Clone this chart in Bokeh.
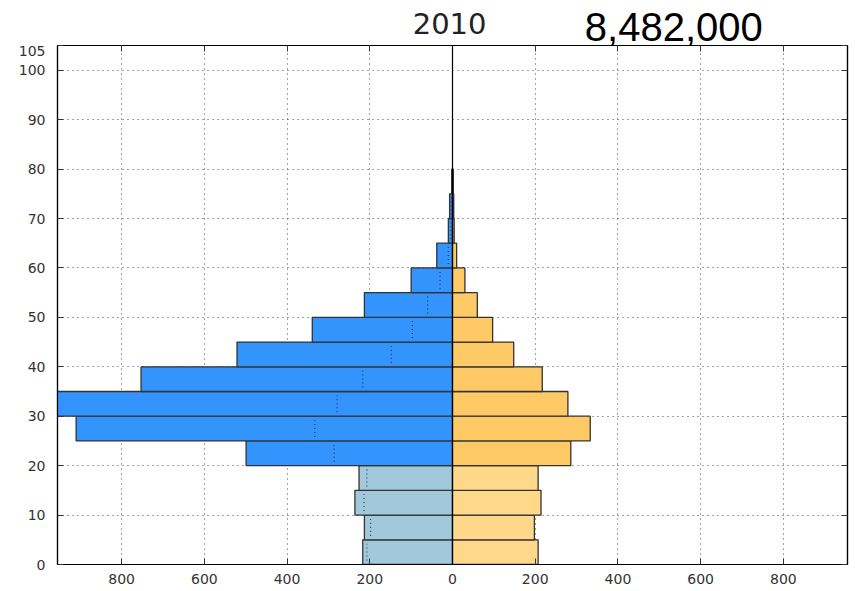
from bokeh.plotting import figure
from bokeh.models import (Range1d, FixedTicker, LinearAxis, Label, Span,
                          ColumnDataSource)
from bokeh.layouts import column
from bokeh.embed import file_html
from bokeh.resources import INLINE

# ---- data (thousands) ----
age_start = [0, 5, 10, 15, 20, 25, 30, 35, 40, 45, 50, 55, 60, 65, 70, 75]
male = [217, 213, 236, 226, 499, 910, 965, 753, 521, 339, 213, 100, 38, 10, 7, 2]
female = [207, 198, 214, 207, 286, 333, 279, 217, 148, 97, 60, 30, 10, 4, 3, 2]
year_label = "2010"
total_label = "8,482,000"
x_ticks = [-800, -600, -400, -200, 0, 200, 400, 600, 800]
y_ticks = [0, 10, 20, 30, 40, 50, 60, 70, 80, 90, 100, 105]

bin_w = 5
child_age = 20
male_adult_c = "#3394FE"
male_child_c = "#A2C8DB"
female_adult_c = "#FFC965"
female_child_c = "#FFD88A"

src = ColumnDataSource(dict(
    bottom=age_start,
    top=[a + bin_w for a in age_start],
    mleft=[-m for m in male],
    fright=female,
    fmirror=[-f for f in female],
    zero=[0] * len(age_start),
    dbot=[a + 0.8 for a in age_start],
    dtop=[a + bin_w - 0.8 for a in age_start],
    mcol=[male_child_c if a < child_age else male_adult_c for a in age_start],
    fcol=[female_child_c if a < child_age else female_adult_c for a in age_start],
))

xr = Range1d(-955, 955)
HEADER_H = 45

# ---- header strip with the two titles ----
header = figure(width=855, height=HEADER_H, output_backend="svg",
                toolbar_location=None, x_range=xr,
                y_range=Range1d(0, HEADER_H),
                x_axis_type=None, y_axis_type=None,
                min_border_left=57, min_border_right=8,
                min_border_top=0, min_border_bottom=0,
                background_fill_color=None, border_fill_color=None)
header.outline_line_color = None
header.grid.visible = False
header.add_layout(Label(x=-7, y=22, text=year_label, text_align="center",
                        text_baseline="middle", text_font="DejaVu Sans",
                        text_font_size="29px", text_color="#222222"))
header.add_layout(Label(x=320, y=19, text=total_label, text_align="left",
                        text_baseline="middle",
                        text_font="Liberation Sans", text_font_size="40px",
                        text_color="black"))

# ---- main pyramid ----
p = figure(width=855, height=591 - HEADER_H, output_backend="svg",
           toolbar_location=None, x_range=xr, y_range=Range1d(0, 105),
           min_border_left=57, min_border_right=8, min_border_top=0,
           min_border_bottom=27, background_fill_color="white",
           border_fill_color="white")
p.outline_line_color = "black"
p.outline_line_width = 1.2

# grid
p.xgrid.ticker = FixedTicker(ticks=[t for t in x_ticks if t != 0])
p.ygrid.ticker = FixedTicker(ticks=[t for t in y_ticks if 0 < t <= 100])
for g in (p.xgrid, p.ygrid):
    g.grid_line_color = "#444444"
    g.grid_line_dash = "1 4"
    g.grid_line_width = 1

# bars
p.quad(left="mleft", right="zero", bottom="bottom", top="top", source=src,
       fill_color="mcol", line_color="#333333", line_width=1.3)
p.quad(left="zero", right="fright", bottom="bottom", top="top", source=src,
       fill_color="fcol", line_color="#333333", line_width=1.3)

# female values mirrored on the male side (dotted)
p.segment(x0="fmirror", x1="fmirror", y0="dbot", y1="dtop", source=src,
          line_color="#1b3356", line_dash="1 3", line_width=1.2)

p.add_layout(Span(location=0, dimension="height", line_color="black",
                  line_width=1.2))

# axes
def style_axis(ax):
    ax.major_tick_in = 6
    ax.major_tick_out = 0
    ax.minor_tick_in = 0
    ax.minor_tick_out = 0
    ax.axis_line_color = "black"
    ax.axis_line_width = 1.2
    ax.major_tick_line_color = "#333333"
    ax.major_label_text_font = "DejaVu Sans"
    ax.major_label_text_font_size = "14px"
    ax.major_label_text_color = "#333333"

p.xaxis.ticker = FixedTicker(ticks=x_ticks)
p.xaxis.major_label_overrides = {t: str(abs(t)) for t in x_ticks}
p.yaxis.ticker = FixedTicker(ticks=y_ticks)
style_axis(p.xaxis[0])
style_axis(p.yaxis[0])
p.xaxis.major_label_standoff = 9
p.yaxis.major_label_standoff = 12

top_ax = LinearAxis(ticker=FixedTicker(ticks=x_ticks))
right_ax = LinearAxis(ticker=FixedTicker(ticks=y_ticks))
style_axis(top_ax)
style_axis(right_ax)
top_ax.major_label_overrides = {t: "" for t in x_ticks}
right_ax.major_label_overrides = {t: "" for t in y_ticks}
top_ax.major_label_standoff = 0
right_ax.major_label_standoff = 0
p.add_layout(top_ax, "above")
p.add_layout(right_ax, "right")

layout = column(header, p, spacing=0)
open("out.html", "w").write(file_html(layout, INLINE))
